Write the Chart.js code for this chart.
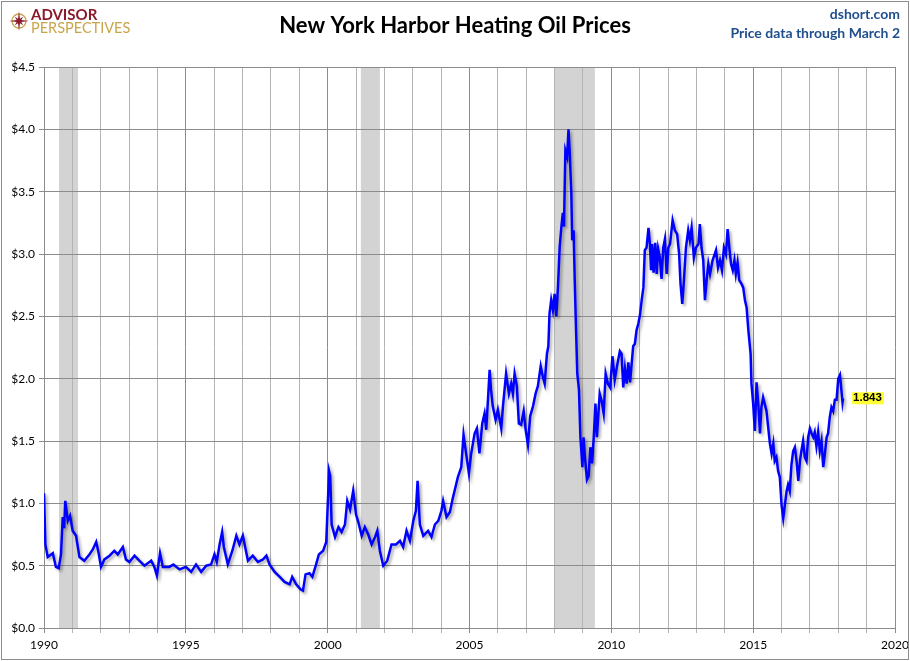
<!DOCTYPE html>
<html>
<head>
<meta charset="utf-8">
<script src="https://cdn.jsdelivr.net/npm/chart.js@4.4.0/dist/chart.umd.min.js"></script>
<style>
  html, body { margin: 0; padding: 0; background: #fff; }
  #wrap { position: relative; width: 910px; height: 661px; }
</style>
</head>
<body>
<div id="wrap"><canvas id="chart" width="910" height="661"></canvas></div>
<script>
/* ── DATA ── */
const years = [
  1990.00, 1990.05, 1990.13, 1990.25, 1990.31, 1990.42, 1990.52, 1990.60, 1990.66, 1990.71,
  1990.75, 1990.84, 1990.92, 1991.01, 1991.13, 1991.25, 1991.42, 1991.60, 1991.72, 1991.84,
  1991.91, 1992.01, 1992.13, 1992.31, 1992.48, 1992.60, 1992.78, 1992.89, 1993.01, 1993.19,
  1993.36, 1993.54, 1993.78, 1993.89, 1993.98, 1994.09, 1994.19, 1994.42, 1994.56, 1994.78,
  1995.00, 1995.19, 1995.36, 1995.54, 1995.72, 1995.89, 1996.01, 1996.09, 1996.19, 1996.28,
  1996.34, 1996.48, 1996.64, 1996.78, 1996.89, 1997.01, 1997.19, 1997.36, 1997.54, 1997.72,
  1997.84, 1997.95, 1998.13, 1998.31, 1998.48, 1998.66, 1998.75, 1998.89, 1999.04, 1999.13,
  1999.22, 1999.36, 1999.46, 1999.58, 1999.69, 1999.84, 1999.95, 2000.05, 2000.09, 2000.14,
  2000.26, 2000.38, 2000.49, 2000.61, 2000.69, 2000.79, 2000.90, 2001.00, 2001.08, 2001.20,
  2001.31, 2001.43, 2001.55, 2001.67, 2001.75, 2001.84, 2001.96, 2002.10, 2002.25, 2002.41,
  2002.55, 2002.66, 2002.78, 2002.90, 2003.02, 2003.11, 2003.17, 2003.25, 2003.37, 2003.54,
  2003.66, 2003.78, 2003.90, 2004.01, 2004.07, 2004.19, 2004.31, 2004.41, 2004.59, 2004.71,
  2004.79, 2004.88, 2004.98, 2005.06, 2005.18, 2005.26, 2005.35, 2005.45, 2005.53, 2005.59,
  2005.65, 2005.71, 2005.76, 2005.82, 2005.92, 2006.00, 2006.12, 2006.18, 2006.29, 2006.39,
  2006.47, 2006.53, 2006.59, 2006.67, 2006.74, 2006.82, 2006.91, 2006.98, 2007.06, 2007.14,
  2007.24, 2007.33, 2007.41, 2007.51, 2007.59, 2007.65, 2007.73, 2007.78, 2007.82, 2007.88,
  2007.94, 2008.00, 2008.06, 2008.12, 2008.18, 2008.24, 2008.29, 2008.33, 2008.38, 2008.44,
  2008.49, 2008.53, 2008.59, 2008.62, 2008.67, 2008.71, 2008.76, 2008.80, 2008.86, 2008.91,
  2008.98, 2009.02, 2009.07, 2009.14, 2009.20, 2009.26, 2009.32, 2009.38, 2009.44, 2009.49,
  2009.59, 2009.66, 2009.73, 2009.80, 2009.88, 2009.96, 2010.04, 2010.12, 2010.20, 2010.30,
  2010.36, 2010.42, 2010.48, 2010.54, 2010.60, 2010.66, 2010.77, 2010.83, 2010.89, 2010.95,
  2011.01, 2011.07, 2011.13, 2011.18, 2011.24, 2011.31, 2011.36, 2011.40, 2011.44, 2011.49,
  2011.55, 2011.60, 2011.65, 2011.71, 2011.77, 2011.83, 2011.89, 2011.95, 2012.01, 2012.07,
  2012.16, 2012.24, 2012.32, 2012.39, 2012.44, 2012.50, 2012.56, 2012.63, 2012.71, 2012.77,
  2012.83, 2012.91, 2012.98, 2013.07, 2013.12, 2013.18, 2013.24, 2013.30, 2013.36, 2013.42,
  2013.48, 2013.57, 2013.69, 2013.76, 2013.83, 2013.90, 2013.97, 2014.04, 2014.10, 2014.16,
  2014.22, 2014.28, 2014.34, 2014.39, 2014.45, 2014.51, 2014.59, 2014.65, 2014.71, 2014.77,
  2014.83, 2014.91, 2014.94, 2015.00, 2015.06, 2015.12, 2015.18, 2015.24, 2015.29, 2015.35,
  2015.47, 2015.53, 2015.59, 2015.65, 2015.71, 2015.76, 2015.82, 2015.88, 2015.94, 2016.00,
  2016.06, 2016.12, 2016.18, 2016.23, 2016.29, 2016.35, 2016.41, 2016.47, 2016.53, 2016.59,
  2016.65, 2016.70, 2016.76, 2016.82, 2016.88, 2016.94, 2017.00, 2017.06, 2017.12, 2017.17,
  2017.23, 2017.29, 2017.35, 2017.41, 2017.47, 2017.53, 2017.59, 2017.64, 2017.70, 2017.76,
  2017.82, 2017.88, 2017.94, 2018.00, 2018.06, 2018.11, 2018.15, 2018.17
];

const prices = [
  1.08, 0.67, 0.57, 0.59, 0.60, 0.49, 0.48, 0.59, 0.89, 0.80,
  1.02, 0.86, 0.90, 0.78, 0.74, 0.57, 0.54, 0.59, 0.63, 0.69,
  0.62, 0.49, 0.55, 0.58, 0.62, 0.59, 0.65, 0.55, 0.53, 0.58,
  0.54, 0.50, 0.54, 0.49, 0.42, 0.60, 0.49, 0.49, 0.51, 0.47,
  0.49, 0.45, 0.51, 0.45, 0.50, 0.51, 0.59, 0.53, 0.67, 0.77,
  0.65, 0.51, 0.62, 0.74, 0.67, 0.74, 0.54, 0.58, 0.53, 0.55,
  0.58, 0.51, 0.45, 0.41, 0.37, 0.35, 0.41, 0.35, 0.31, 0.30,
  0.43, 0.44, 0.41, 0.50, 0.59, 0.62, 0.69, 1.26, 1.22, 0.83,
  0.73, 0.81, 0.77, 0.83, 1.02, 0.95, 1.10, 0.91, 0.85, 0.74,
  0.81, 0.75, 0.67, 0.73, 0.78, 0.62, 0.50, 0.54, 0.67, 0.67,
  0.70, 0.65, 0.78, 0.70, 0.86, 0.94, 1.18, 0.83, 0.74, 0.78,
  0.73, 0.83, 0.86, 0.94, 1.02, 0.89, 0.93, 1.04, 1.21, 1.29,
  1.55, 1.40, 1.24, 1.40, 1.56, 1.60, 1.40, 1.64, 1.72, 1.59,
  1.83, 2.07, 1.91, 1.78, 1.67, 1.75, 1.60, 1.78, 2.04, 1.88,
  1.96, 1.88, 2.04, 1.94, 1.64, 1.63, 1.74, 1.59, 1.47, 1.70,
  1.78, 1.88, 1.94, 2.10, 2.01, 1.96, 2.20, 2.26, 2.52, 2.63,
  2.55, 2.68, 2.50, 2.74, 3.06, 3.22, 3.33, 3.22, 3.83, 3.78,
  4.00, 3.83, 3.49, 3.11, 3.19, 2.79, 2.36, 2.04, 1.91, 1.53,
  1.29, 1.53, 1.37, 1.19, 1.22, 1.45, 1.32, 1.53, 1.80, 1.53,
  1.88, 1.82, 1.72, 2.04, 1.96, 1.93, 2.18, 1.99, 2.10, 2.22,
  2.20, 1.93, 2.08, 1.96, 2.13, 1.97, 2.26, 2.28, 2.39, 2.44,
  2.51, 2.63, 2.73, 3.03, 3.05, 3.21, 3.08, 2.87, 3.08, 2.85,
  3.09, 2.84, 3.04, 2.97, 2.80, 3.05, 3.12, 2.84, 3.05, 3.08,
  3.27, 3.19, 3.16, 3.00, 2.76, 2.60, 2.79, 3.05, 3.19, 3.11,
  3.21, 2.97, 3.05, 3.08, 3.24, 3.05, 2.95, 2.63, 2.79, 2.92,
  2.84, 2.95, 3.03, 2.89, 2.95, 2.87, 3.05, 3.00, 3.20, 3.05,
  2.92, 2.87, 2.95, 2.84, 2.93, 2.79, 2.76, 2.73, 2.63, 2.57,
  2.39, 2.20, 1.96, 1.80, 1.58, 1.97, 1.80, 1.56, 1.77, 1.85,
  1.74, 1.61, 1.48, 1.40, 1.48, 1.34, 1.37, 1.26, 1.21, 0.99,
  0.88, 0.99, 1.10, 1.15, 1.10, 1.31, 1.42, 1.45, 1.34, 1.18,
  1.34, 1.42, 1.50, 1.37, 1.34, 1.53, 1.60, 1.56, 1.53, 1.57,
  1.46, 1.57, 1.42, 1.50, 1.29, 1.40, 1.53, 1.56, 1.69, 1.77,
  1.74, 1.83, 1.83, 2.00, 2.03, 1.91, 1.81, 1.843
];

// recession bands (decimal years)
const recessionStarts = [1990.53, 2001.17, 2007.98];
const recessionEnds   = [1991.20, 2001.84, 2009.42];

const yearLabels = [1990, 1995, 2000, 2005, 2010, 2015, 2020];

const FONT = 'Lato, "Open Sans", sans-serif';

/* ── PLUGINS ── */
const recessionShade = {
  id: 'recessionShade',
  beforeDraw(chart) {
    const { ctx, chartArea, scales } = chart;
    ctx.save();
    ctx.fillStyle = '#d3d3d3';
    recessionStarts.forEach((s, i) => {
      const x0 = scales.x.getPixelForValue(s);
      const x1 = scales.x.getPixelForValue(recessionEnds[i]);
      ctx.fillRect(x0, chartArea.top, x1 - x0, chartArea.bottom - chartArea.top);
    });
    ctx.restore();
  }
};

const lineShadow = {
  id: 'lineShadow',
  beforeDatasetDraw(chart) {
    const ctx = chart.ctx;
    ctx.save();
    ctx.shadowColor = 'rgba(0,0,0,0.35)';
    ctx.shadowBlur = 3;
    ctx.shadowOffsetX = 2;
    ctx.shadowOffsetY = 2;
  },
  afterDatasetDraw(chart) {
    chart.ctx.restore();
  }
};

const decorations = {
  id: 'decorations',
  afterDraw(chart) {
    const ctx = chart.ctx;
    ctx.save();

    // outer frame
    ctx.strokeStyle = '#8c8c8c';
    ctx.lineWidth = 1;
    ctx.strokeRect(1.5, 1.5, 907, 658);

    // title
    ctx.fillStyle = '#000';
    ctx.font = 'bold 22px ' + FONT;
    ctx.textAlign = 'center';
    ctx.textBaseline = 'middle';
    ctx.fillText('New York Harbor Heating Oil Prices', 455, 26);

    // source text
    ctx.fillStyle = '#1f4e8c';
    ctx.font = 'bold 14px ' + FONT;
    ctx.textAlign = 'right';
    ctx.fillText('dshort.com', 900, 14);
    ctx.fillText('Price data through March 2', 900, 33);

    // logo
    ctx.strokeStyle = '#c9a54a';
    ctx.lineWidth = 1.3;
    ctx.beginPath();
    ctx.arc(19, 21, 7, 0, Math.PI * 2);
    ctx.stroke();
    ctx.fillStyle = '#8b1a2b';
    ctx.beginPath();
    for (let k = 0; k < 16; k++) {
      const a = k * Math.PI / 8 - Math.PI / 2;
      const r = k % 4 === 0 ? 10 : (k % 2 === 0 ? 6 : 2.5);
      ctx.lineTo(19 + r * Math.cos(a), 21 + r * Math.sin(a));
    }
    ctx.closePath();
    ctx.fill();
    ctx.textAlign = 'left';
    ctx.fillStyle = '#8b1a2b';
    ctx.font = 'bold 15px ' + FONT;
    ctx.fillText('ADVISOR', 31, 15);
    ctx.fillStyle = '#c9a54a';
    ctx.font = '14.5px ' + FONT;
    ctx.fillText('PERSPECTIVES', 31, 28);

    // last value tag
    const meta = chart.getDatasetMeta(0);
    const last = meta.data[meta.data.length - 1];
    const txt = prices[prices.length - 1].toFixed(3);
    ctx.font = 'bold 11.5px "Liberation Sans", sans-serif';
    const w = ctx.measureText(txt).width;
    const tx = last.x + 10, ty = last.y;
    ctx.fillStyle = '#ffff33';
    ctx.fillRect(tx - 1, ty - 6, w + 3, 12);
    ctx.fillStyle = '#000';
    ctx.textAlign = 'left';
    ctx.fillText(txt, tx, ty);

    ctx.restore();
  }
};

/* ── CHART ── */
const points = years.map((x, i) => ({ x, y: prices[i] }));

new Chart(document.getElementById('chart'), {
  type: 'line',
  data: {
    datasets: [{
      data: points,
      borderColor: '#0000ff',
      borderWidth: 2.5,
      pointRadius: 0,
      tension: 0,
      fill: false,
    }],
  },
  options: {
    responsive: false,
    animation: false,
    devicePixelRatio: 1,
    layout: { padding: { left: 0, top: 67, right: 15, bottom: 0 } },
    plugins: { legend: { display: false }, tooltip: { enabled: false }, title: { display: false } },
    scales: {
      x: {
        type: 'linear',
        min: 1990, max: 2020,
        afterFit: s => { s.height = 33; s.paddingLeft = 0; s.paddingRight = 0; },
        afterBuildTicks: s => { s.ticks = []; for (let y = 1990; y <= 2020; y++) s.ticks.push({ value: y }); },
        ticks: {
          autoSkip: false, maxRotation: 0, padding: 5,
          color: '#000', font: { family: FONT, size: 12 },
          callback: v => yearLabels.includes(v) ? String(v) : '',
        },
        grid: {
          color: c => (c.tick && c.tick.value % 5 === 0) ? '#8c8c8c' : '#b4b4b4',
          tickLength: 5,
        },
        border: { color: '#8c8c8c' },
      },
      y: {
        min: 0, max: 4.5,
        afterFit: s => { s.width = 44; },
        ticks: {
          stepSize: 0.5, padding: 4,
          color: '#000', font: { family: FONT, size: 12 },
          callback: v => '$' + Number(v).toFixed(1),
        },
        grid: { color: '#8c8c8c', tickLength: 5 },
        border: { color: '#8c8c8c' },
      },
    },
  },
  plugins: [recessionShade, lineShadow, decorations],
});
</script>
</body>
</html>
